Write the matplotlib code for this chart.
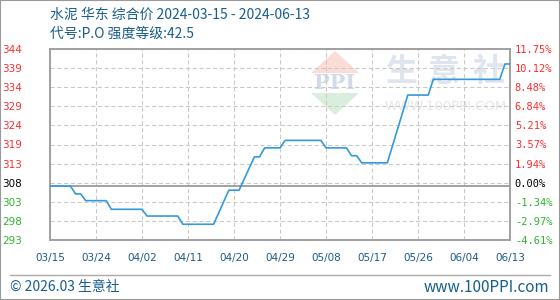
import numpy as np
import pandas as pd
import matplotlib
matplotlib.use("Agg")
import matplotlib.pyplot as plt
from matplotlib.patches import Polygon, Rectangle
from matplotlib.lines import Line2D

plt.rcParams['font.family'] = ['Noto Sans CJK SC', 'DejaVu Sans']

# price series (days after 2024-03-15)
day_offsets = [0, 4, 5, 6, 7, 11, 12, 18, 19, 25, 26, 32, 33, 34, 35, 37, 38, 39, 40, 41,
               42, 45, 46, 53, 54, 58, 59, 60, 61, 66, 67, 68, 69, 70, 74, 75, 88, 89, 90]
prices = [307.4, 307.4, 305.3, 305.3, 303.5, 303.5, 301.2, 301.2, 299.4, 299.4, 297.2, 297.2,
          300.2, 303.3, 306.3, 306.3, 309.3, 312.3, 315.2, 315.2, 317.6, 317.6, 319.6, 319.6,
          317.6, 317.6, 315.5, 315.5, 313.6, 313.6, 318.1, 322.6, 327.1, 331.7, 331.7, 335.9,
          335.9, 340.0, 340.0]
base_price = 307.4

y_labels = ["293", "298", "303", "308", "313", "319", "324", "329", "334", "339", "344"]
pct_labels = ["-4.61%", "-2.97%", "-1.34%", "0.00%", "1.94%", "3.57%", "5.21%",
              "6.84%", "8.48%", "10.12%", "11.75%"]

start = pd.Timestamp("2024-03-15")
end = pd.Timestamp("2024-06-13")
dates = start + pd.to_timedelta(day_offsets, unit="D")

title_col = "#175d8d"
red = "#ff2d2d"
green = "#2db52d"

fig = plt.figure(figsize=(5.6, 3.0), dpi=100)
W, H = 560, 300


def fx(x):
    return x / W


def fy(y):
    return 1 - y / H


ax = fig.add_axes([fx(50), fy(240), 460 / W, 191 / H])
ax.set_zorder(2)
ax.patch.set_alpha(0)

# watermark (drawn on figure, under the axes)
pink = Polygon([(fx(311), fy(73)), (fx(359), fy(73)), (fx(335), fy(51))],
               closed=True, transform=fig.transFigure, fc="#fbdcd6", ec="none", zorder=0)
greenp = Polygon([(fx(311), fy(93)), (fx(359), fy(93)), (fx(335), fy(115))],
                 closed=True, transform=fig.transFigure, fc="#d9eedc", ec="none", zorder=0)
fig.add_artist(pink)
fig.add_artist(greenp)
fig.text(fx(335), fy(83), "PPI", ha="center", va="center", fontsize=15, fontweight="bold",
         family="DejaVu Serif", color="#d3dbea", zorder=0.5)
for cx, ch in zip([401, 444, 489], ["生", "意", "社"]):
    fig.text(fx(cx), fy(72), ch, ha="center", va="center", fontsize=23, fontweight="bold",
             color="#e0e4ee", zorder=0.5)
fig.text(fx(446), fy(107), "WWW.100PPI.COM", ha="center", va="center", fontsize=9.5,
         family="DejaVu Sans", color="#e6e6e6", zorder=0.5)

# grid
grid_vals = np.linspace(293, 344, 11)
ticks = pd.date_range(start, end, freq="9D")
for g in grid_vals:
    ax.axhline(g, color="#c8c8c8", lw=0.75, ls=(0, (4, 2.5)), zorder=1)
for t in ticks:
    ax.axvline(t, color="#c8c8c8", lw=0.75, ls=(0, (4, 2.5)), zorder=1)
ax.axhline(base_price, color="#9a9a9a", lw=1.3, zorder=2)

ax.plot(dates, prices, color="#3399dd", lw=1.2, zorder=3)

ax.set_xlim(start, end)
ax.set_ylim(293, 344)
ax.set_xticks(ticks)
ax.set_xticklabels([t.strftime("%m/%d") for t in ticks], family="DejaVu Sans", fontsize=7.5,
                   color="#1a5a8a")
ax.set_yticks(grid_vals)
ax.set_yticklabels(y_labels, family="DejaVu Sans", fontsize=7.5)
ax.tick_params(axis="both", length=0)
ax.tick_params(axis="x", pad=9)
ax.tick_params(axis="y", pad=20)
for i, lab in enumerate(ax.get_yticklabels()):
    lab.set_color(green if i < 3 else ("black" if i == 3 else red))
for sp in ax.spines.values():
    sp.set_color("#a0a0a0")
    sp.set_linewidth(1.4)

ax2 = ax.twinx()
ax2.set_ylim(293, 344)
ax2.set_yticks(grid_vals)
ax2.set_yticklabels(pct_labels, family="DejaVu Sans Mono", fontsize=7.5)
ax2.tick_params(axis="y", length=0, pad=3.5)
for i, lab in enumerate(ax2.get_yticklabels()):
    lab.set_color(green if i < 3 else ("black" if i == 3 else red))
for sp in ax2.spines.values():
    sp.set_visible(False)

# titles
fig.text(fx(50), fy(15), "水泥 华东 综合价 2024-03-15 - 2024-06-13", ha="left", va="center",
         fontsize=10, color=title_col)
fig.text(fx(50), fy(34), "代号:P.O 强度等级:42.5", ha="left", va="center",
         fontsize=10, color=title_col)

# footer
fig.add_artist(Line2D([fx(10), fx(550)], [fy(275), fy(275)], transform=fig.transFigure,
                      color="#aaaaaa", lw=1))
fig.text(fx(10), fy(287), "© 2026.03 生意社", ha="left", va="center", fontsize=10,
         color=title_col)
fig.text(fx(549), fy(287), "www.100PPI.com", ha="right", va="center", fontsize=11,
         color=title_col)

fig.add_artist(Rectangle((0, 0), 1, 1, transform=fig.transFigure, fill=False,
                         ec="#9a9a9a", lw=1.5))

fig.savefig("out.png", dpi=100)
